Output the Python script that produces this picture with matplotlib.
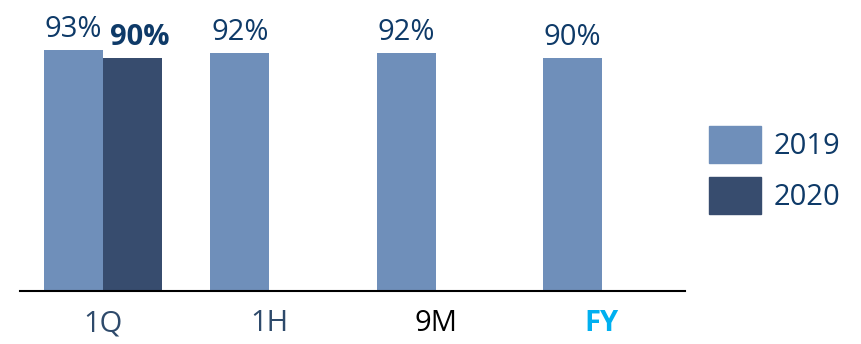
import numpy as np
import matplotlib.pyplot as plt
from matplotlib.patches import Patch

periods = ['1Q', '1H', '9M', 'FY']
vals_2019 = [93, 92, 92, 90]
vals_2020 = [90]
tick_colors = ['#2E4A6B', '#2E4A6B', '#000000', '#00B0F0']
tick_weights = ['normal', 'normal', 'normal', 'bold']

c2019 = '#6F8FBA'
c2020 = '#374C6E'
txt = '#0E3A68'

plt.rcParams['font.family'] = ['Open Sans', 'DejaVu Sans']

fig = plt.figure(figsize=(8.62, 3.44), dpi=100)
ax = fig.add_axes([20 / 862, 53 / 344, 665 / 862, 291 / 344])

x = np.arange(len(periods))
w = 0.355
b1 = ax.bar(x - w / 2, vals_2019, w, color=c2019)
b2 = ax.bar(x[:len(vals_2020)] + w / 2, vals_2020, w, color=c2020)

for rect, v in zip(b1, vals_2019):
    ax.text(rect.get_x() + rect.get_width() / 2, v + 5, f'{v}%', ha='center',
            va='baseline', fontsize=21, color=txt)
for rect, v in zip(b2, vals_2020):
    ax.text(rect.get_x() + rect.get_width() / 2 + 0.04, v + 5, f'{v}%', ha='center',
            va='baseline', fontsize=21, color=txt, fontweight='bold')

ax.set_xlim(-0.5, 3.5)
ax.set_ylim(0, 291 / 2.59)
ax.set_xticks(x)
ax.set_xticklabels(periods, fontsize=21)
for lab, c, fw in zip(ax.get_xticklabels(), tick_colors, tick_weights):
    lab.set_color(c)
    lab.set_fontweight(fw)
ax.tick_params(axis='x', length=0, pad=13)
ax.set_yticks([])
for s in ['top', 'right', 'left']:
    ax.spines[s].set_visible(False)
ax.spines['bottom'].set_linewidth(1.5)

handles = [Patch(color=c2019, label='2019'), Patch(color=c2020, label='2020')]
leg = fig.legend(handles=handles, loc='center left', bbox_to_anchor=(709 / 862, 1 - 170 / 344),
                 frameon=False, fontsize=21, handlelength=1.8, handleheight=1.6,
                 labelspacing=0.45, handletextpad=0.4, borderpad=0, borderaxespad=0)
for t in leg.get_texts():
    t.set_color(txt)

fig.savefig('out.png', dpi=100)
